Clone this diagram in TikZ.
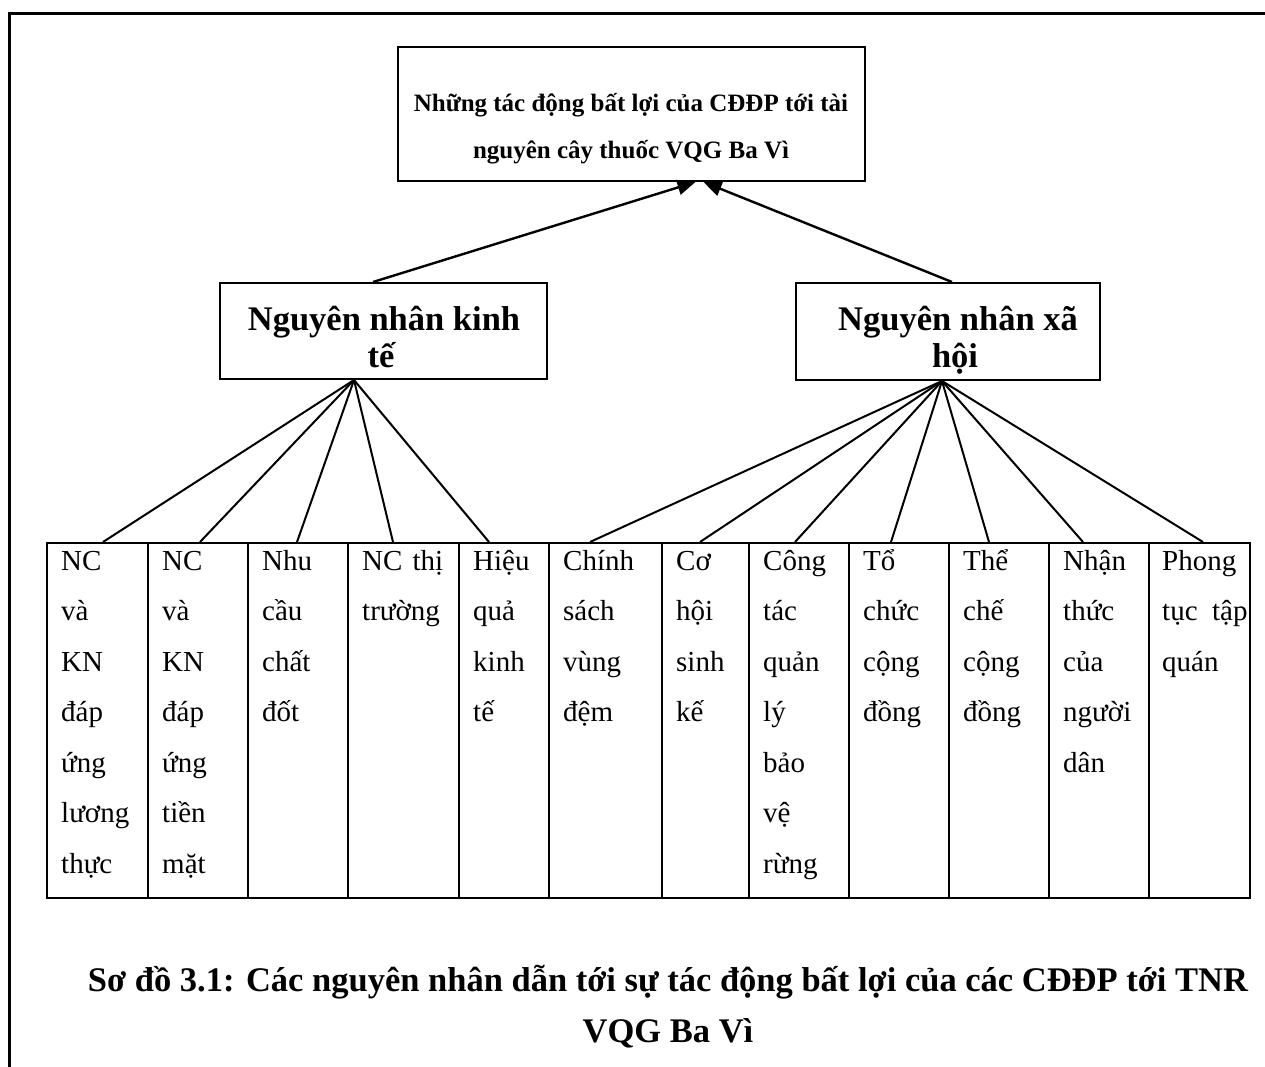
\documentclass[tikz,border=0pt]{standalone}
\usepackage{fontspec}
\setmainfont{Liberation Serif}
\usetikzlibrary{arrows.meta,calc}
\begin{document}
\begin{tikzpicture}[x=1pt,y=-1pt,
  box/.style={draw,line width=2pt,inner sep=0pt},
  conn/.style={line width=2pt},
  arr/.style={line width=2.4pt,-{Triangle[length=18pt,width=15pt]}},
  cell/.style={draw,line width=2pt,inner sep=0pt,minimum height=355pt},
  celltext/.style={anchor=north west,inner sep=0pt,align=left,font=\fontsize{29}{50.5}\selectfont},
  ttl/.style={font=\bfseries\fontsize{25}{30}\selectfont,anchor=base},
  mid/.style={font=\bfseries\fontsize{34.5}{38}\selectfont,anchor=base},
  captext/.style={font=\bfseries\fontsize{34.5}{38}\selectfont,anchor=base}]
\useasboundingbox (0,0) rectangle (1265,1067);
\draw[line width=3pt] (9,1067) -- (9,14) -- (1265,14);
% top box
\node[box,minimum width=467pt,minimum height=134pt] (top) at (631.5,114) {};
\node[ttl] (t1) at (631,112) {Những tác động bất lợi của CĐĐP tới tài};
\node[ttl] (t2) at (631,159) {nguyên cây thuốc VQG Ba Vì};
% middle boxes
\node[box,minimum width=327pt,minimum height=96pt] (lk) at (383.5,331) {};
\node[mid] (lk1) at (384,330) {Nguyên nhân kinh};
\node[mid] (lk2) at (381,367) {tế};
\node[box,minimum width=304pt,minimum height=97pt] (rx) at (948,331.5) {};
\node[mid] (rx1) at (958,330) {Nguyên nhân xã};
\node[mid] (rx2) at (955,367) {hội};
% arrows
\draw[arr] ([xshift=-10.5pt]lk.north) -- ([xshift=64pt]top.south);
\draw[arr] ([xshift=4pt]rx.north) -- ([xshift=72pt]top.south);
% cells
\foreach \n/\a/\b in {c1/47/148,c2/148/248,c3/248/348,c4/348/459,c5/459/549,c6/549/662,c7/662/749,c8/749/849,c9/849/949,c10/949/1049,c11/1049/1149,c12/1149/1250}{
  \node[cell,minimum width=\b-\a] (\n) at ({(\a+\b)/2},720.5) {};
}
\node[celltext] (x1) at ([xshift=15pt,yshift=-4pt]c1.north west) {\rule{0pt}{24pt}NC\\và\\KN\\đáp\\ứng\\lương\\thực};
\node[celltext] (x2) at ([xshift=15pt,yshift=-4pt]c2.north west) {\rule{0pt}{24pt}NC\\và\\KN\\đáp\\ứng\\tiền\\mặt};
\node[celltext] (x3) at ([xshift=15pt,yshift=-4pt]c3.north west) {\rule{0pt}{24pt}Nhu\\cầu\\chất\\đốt};
\node[celltext] (x4) at ([xshift=15pt,yshift=-4pt]c4.north west) {\rule{0pt}{24pt}NC\hspace{0.35em}thị\\trường};
\node[celltext] (x5) at ([xshift=15pt,yshift=-4pt]c5.north west) {\rule{0pt}{24pt}Hiệu\\quả\\kinh\\tế};
\node[celltext] (x6) at ([xshift=15pt,yshift=-4pt]c6.north west) {\rule{0pt}{24pt}Chính\\sách\\vùng\\đệm};
\node[celltext] (x7) at ([xshift=15pt,yshift=-4pt]c7.north west) {\rule{0pt}{24pt}Cơ\\hội\\sinh\\kế};
\node[celltext] (x8) at ([xshift=15pt,yshift=-4pt]c8.north west) {\rule{0pt}{24pt}Công\\tác\\quản\\lý\\bảo\\vệ\\rừng};
\node[celltext] (x9) at ([xshift=15pt,yshift=-4pt]c9.north west) {\rule{0pt}{24pt}Tổ\\chức\\cộng\\đồng};
\node[celltext] (x10) at ([xshift=15pt,yshift=-4pt]c10.north west) {\rule{0pt}{24pt}Thể\\chế\\cộng\\đồng};
\node[celltext] (x11) at ([xshift=15pt,yshift=-4pt]c11.north west) {\rule{0pt}{24pt}Nhận\\thức\\của\\người\\dân};
\node[celltext] (x12) at ([xshift=14pt,yshift=-4pt]c12.north west) {\rule{0pt}{24pt}Phong\\tục\hspace{0.5em}tập\\quán};
% fan lines
\foreach \c/\s in {c1/5.5,c2/2,c3/-1,c4/-10.5,c5/-15}{
  \draw[conn] ([xshift=-29.5pt]lk.south) -- ([xshift=\s pt]\c.north);
}
\foreach \c/\s in {c6/-15.5,c7/-5.5,c8/-4,c9/-8,c10/-10,c11/-16,c12/3.5}{
  \draw[conn] ([xshift=-6pt]rx.south) -- ([xshift=\s pt]\c.north);
}
% caption
\node[captext] (cp1) at (668,991) {Sơ đồ 3.1: Các nguyên nhân dẫn tới sự tác động bất lợi của các CĐĐP tới TNR};
\node[captext] (cp2) at (668,1042) {VQG Ba Vì};
\end{tikzpicture}
\end{document}
